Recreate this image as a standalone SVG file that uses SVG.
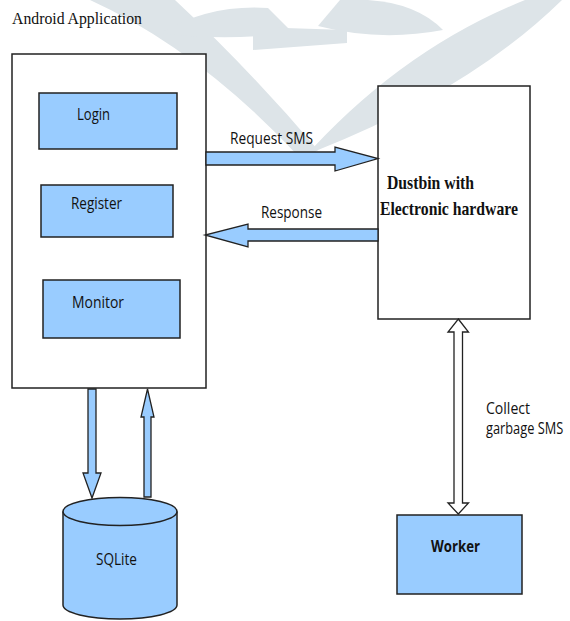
<svg xmlns="http://www.w3.org/2000/svg" width="570" height="621" viewBox="0 0 570 621">
<style>
.box{fill:#ffffff;stroke:#222;stroke-width:1.5}
.blue{fill:#99ccff;stroke:#222;stroke-width:1.5}
.arr{fill:#99ccff;stroke:#222;stroke-width:1.3;stroke-linejoin:miter}
.warr{fill:#ffffff;stroke:#222;stroke-width:1.3}
.wm{fill:#dde4e8}
.cal{font-family:"Open Sans","Noto Sans",sans-serif;font-size:16px;fill:#111}
.calb{font-family:"Open Sans","Noto Sans",sans-serif;font-size:16px;font-weight:bold;fill:#111}
.tnr{font-family:"Liberation Serif","Times New Roman",serif;font-size:17px;fill:#111}
.tnrb{font-family:"Liberation Serif","Times New Roman",serif;font-size:19px;font-weight:bold;fill:#111}
</style>
<rect width="570" height="621" fill="#ffffff"/>
<g id="watermark">
<path class="wm" d="M 90 0 L 175 0 Q 250 70 318 150 L 302 160 Q 200 50 90 0 Z"/>
<path class="wm" d="M 525 0 L 562 0 Q 470 90 318 150 L 302 160 Q 400 50 525 0 Z"/>
<path class="wm" d="M 160 33 Q 210 4 268 8 L 292 32 Q 230 42 160 33 Z"/>
<path class="wm" d="M 443 30 Q 410 -4 340 0 L 318 26 Q 380 42 443 30 Z"/>
<polygon class="wm" points="253,27 347,30 347,43 253,50"/>
</g>
<text class="tnr" x="12" y="24" textLength="130" lengthAdjust="spacingAndGlyphs">Android Application</text>
<g id="android-app">
<rect class="box" x="12" y="54" width="194" height="334"/>
</g>
<g id="login">
<rect class="blue" x="39" y="93" width="138" height="56"/>
<text class="cal" x="77" y="120" textLength="33" lengthAdjust="spacingAndGlyphs">Login</text>
</g>
<g id="register">
<rect class="blue" x="41" y="185" width="132" height="52"/>
<text class="cal" x="71" y="209" textLength="51" lengthAdjust="spacingAndGlyphs">Register</text>
</g>
<g id="monitor">
<rect class="blue" x="43" y="280" width="137" height="58"/>
<text class="cal" x="72" y="308" textLength="52" lengthAdjust="spacingAndGlyphs">Monitor</text>
</g>
<g id="dustbin">
<rect class="box" x="378" y="86" width="152" height="233"/>
<text class="tnrb" x="387" y="189" textLength="87" lengthAdjust="spacingAndGlyphs">Dustbin with</text>
<text class="tnrb" x="380" y="215" textLength="138" lengthAdjust="spacingAndGlyphs">Electronic hardware</text>
</g>
<g id="connectors">
<polygon class="arr" points="206,152 335,152 335,147 378,158.5 335,171 335,165 206,165"/>
<text class="cal" x="230" y="144" textLength="83" lengthAdjust="spacingAndGlyphs">Request SMS</text>
<polygon class="arr" points="378,229 248,229 248,224 205,235 248,247 248,241 378,241"/>
<text class="cal" x="261" y="218" textLength="61" lengthAdjust="spacingAndGlyphs">Response</text>
<polygon class="arr" points="88,389 96,389 96,473 101,473 92,498 83,473 88,473"/>
<polygon class="arr" points="144,497 144,417 141,417 147.5,389 154,417 151,417 151,497"/>
<polygon class="warr" points="458.3,319 468.5,332 462.5,332 462.5,503 468.5,503 458.3,514 448,503 454,503 454,332 448,332"/>
<text class="cal" x="486" y="414" textLength="44" lengthAdjust="spacingAndGlyphs">Collect</text>
<text class="cal" transform="translate(486 434) scale(0.8 1)" x="0" y="0">garbage SMS</text>
</g>
<g id="sqlite">
<path class="blue" d="M 63 511.5 L 63 605 A 57 14 0 0 0 177 605 L 177 511.5 A 57 14 0 0 0 63 511.5 Z"/>
<path d="M 63 511.5 A 57 14 0 0 0 177 511.5" fill="none" stroke="#222" stroke-width="1.5"/>
<text class="cal" x="96" y="565" textLength="41" lengthAdjust="spacingAndGlyphs">SQLite</text>
</g>
<g id="worker">
<rect class="blue" x="397" y="515" width="125" height="79"/>
<text class="calb" x="431" y="552" textLength="49" lengthAdjust="spacingAndGlyphs">Worker</text>
</g>
</svg>
